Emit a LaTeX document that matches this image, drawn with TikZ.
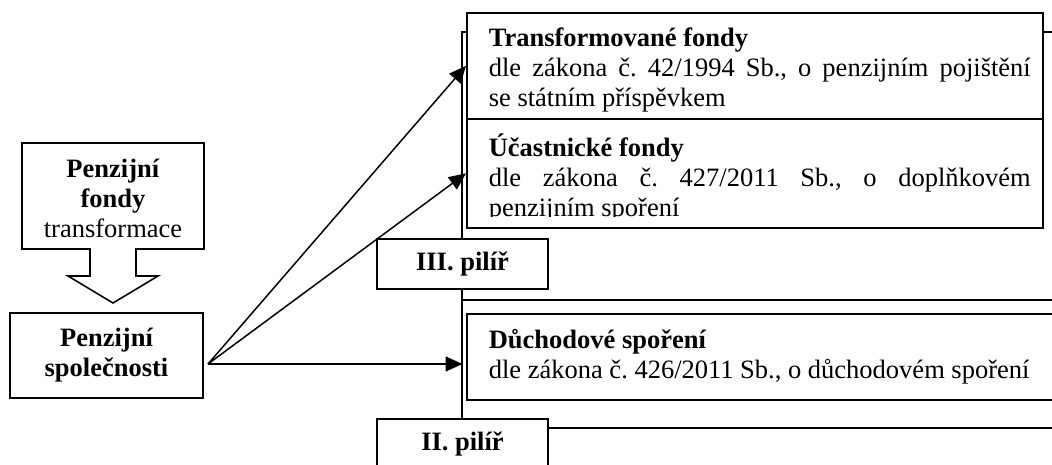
\documentclass[tikz,border=0pt]{standalone}
\usepackage{fontspec}
\setmainfont{Liberation Serif}
\usetikzlibrary{arrows.meta,calc}
\frenchspacing
\newcommand\myfs{\fontsize{26.5}{30}\selectfont}
\begin{document}
\begin{tikzpicture}[x=1pt,y=-1pt,
  line width=1.6pt,
  box/.style={draw,fill=white,inner sep=0pt,anchor=north west},
  txt/.style={inner sep=0pt,anchor=north west,align=left,font=\myfs},
  lbl/.style={draw,fill=white,inner sep=0pt,align=center,font=\myfs\bfseries},
  arr/.style={-{Triangle[length=17pt,width=15pt]},line width=1.5pt}]
\useasboundingbox (0,0) rectangle (1052,465);
\clip (0,0) rectangle (1052,465);
% frames
\draw (1052,32) -- (462,32) -- (462,419);
\draw (462,300) -- (1052,300);
\draw (462,428) -- (1052,428);
% right boxes
\node[box,minimum width=576pt,minimum height=106pt] (tf) at (466,12) {};
\node[box,minimum width=576pt,minimum height=109pt] (uf) at (466,118) {};
\node[box,minimum width=590pt,minimum height=86pt] (ds) at (466,313) {};
\node[txt] (tft) at (488,21) {\rule{0pt}{25pt}\textbf{Transformované fondy}\\
  \makebox[542pt][s]{dle zákona č. 42/1994 Sb., o penzijním pojištění}\\
  se státním příspěvkem};
\begin{scope}
\clip (466,118) rectangle (1042,217);
\node[txt] (uft) at (488,131) {\rule{0pt}{25pt}\textbf{Účastnické fondy}\\
  \makebox[542pt][s]{dle zákona č. 427/2011 Sb., o doplňkovém}\\
  penzijním spoření};
\end{scope}
\node[txt] (dst) at (488,323) {\rule{0pt}{25pt}\textbf{Důchodové spoření}\\
  dle zákona č. 426/2011 Sb., o důchodovém spoření};
% pillar labels
\node[lbl,minimum width=171pt,minimum height=50pt] (p3) at (462.5,264) {III. pilíř};
\node[lbl,minimum width=171pt,minimum height=50pt] (p2) at (462.5,444) {II. pilíř};
% left side
\draw (22,143) -- (204,143) -- (204,249) -- (136,249) -- (136,276) -- (158,276)
  -- (113,303) -- (68,276) -- (90,276) -- (90,249) -- (22,249) -- cycle;
\node[inner sep=0pt,align=center,font=\myfs] (pf) at (113,198)
  {\textbf{Penzijní}\\\textbf{fondy}\\transformace};
\node[lbl,minimum width=193pt,minimum height=85pt] (ps) at (106.5,355.5)
  {Penzijní\\společnosti};
\coordinate (o) at (208,364);
\draw[arr] (o) -- (tf.west);
\draw[arr] (o) -- (uf.west);
\draw[arr] (o) -- (o -| p3.center);
\end{tikzpicture}
\end{document}
